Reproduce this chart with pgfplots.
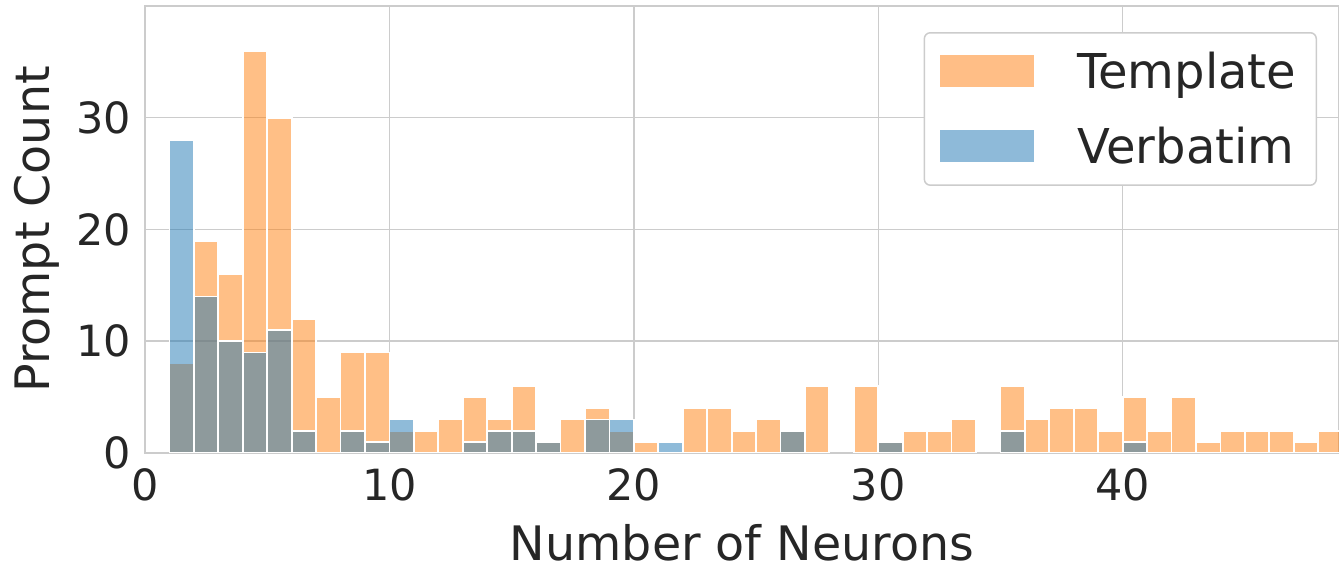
\documentclass[border=0pt]{standalone}
\usepackage{fontspec}
\setmainfont{DejaVu Sans}
\usepackage{pgfplots}
\pgfplotsset{compat=1.18}
\definecolor{tabblue}{RGB}{31,119,180}
\definecolor{taborange}{RGB}{255,127,14}
\definecolor{gridgray}{RGB}{204,204,204}
\definecolor{txt}{RGB}{38,38,38}
\begin{document}
\begin{tikzpicture}
\begin{axis}[
  scale only axis,
  width=597pt, height=223.5pt,
  xmin=0, xmax=48.85, ymin=0, ymax=40,
  xtick={0,10,20,30,40}, ytick={0,10,20,30},
  grid=major,
  major grid style={gridgray, line width=0.75pt},
  axis line style={gridgray, line width=0.75pt},
  tick style={draw=none},
  ticklabel style={font=\fontsize{21.5}{25}\selectfont, text=txt},
  yticklabel style={xshift=-3.5pt},
  /pgf/number format/assume math mode=true,
  xlabel={Number of Neurons}, ylabel={Prompt Count},
  label style={font=\fontsize{23.75}{28}\selectfont, text=txt},
  xlabel style={at={(axis description cs:0.5,-0.2394)}, anchor=base},
  ylabel style={at={(axis description cs:-0.0796,0.5)}, anchor=base},
  ybar, bar width=1, bar shift=0pt,
  legend style={at={(0.9816,0.9418)}, anchor=north east,
    draw=gridgray, line width=0.75pt, rounded corners=3pt,
    font=\fontsize{24}{28}\selectfont, text=txt,
    inner xsep=8pt, inner ysep=7.5pt, row sep=13.75pt,
    nodes={inner sep=2pt}},
  legend cell align=left,
  legend image code/.code={\fill[#1, draw=none, sharp corners] (0pt,-8pt) rectangle (47pt,8pt); \path (66pt,0pt);},
]
\addplot[fill=taborange, fill opacity=0.5, draw=white, draw opacity=1, line width=0.9pt] coordinates {
(1.5,8) (2.5,19) (3.5,16) (4.5,36) (5.5,30) (6.5,12) (7.5,5) (8.5,9) (9.5,9) (10.5,2)
(11.5,2) (12.5,3) (13.5,5) (14.5,3) (15.5,6) (16.5,1) (17.5,3) (18.5,4) (19.5,2) (20.5,1)
(22.5,4) (23.5,4) (24.5,2) (25.5,3) (26.5,2) (27.5,6) (29.5,6) (30.5,1)
(31.5,2) (32.5,2) (33.5,3) (35.5,6) (36.5,3) (37.5,4) (38.5,4) (39.5,2) (40.5,5)
(41.5,2) (42.5,5) (43.5,1) (44.5,2) (45.5,2) (46.5,2) (47.5,1) (48.5,2)
};
\addlegendentry{Template}
\addplot[fill=tabblue, fill opacity=0.5, draw=white, draw opacity=1, line width=0.9pt] coordinates {
(1.5,28) (2.5,14) (3.5,10) (4.5,9) (5.5,11) (6.5,2) (8.5,2) (9.5,1) (10.5,3)
(13.5,1) (14.5,2) (15.5,2) (16.5,1) (18.5,3) (19.5,3) (21.5,1) (26.5,2) (30.5,1)
(35.5,2) (40.5,1)
};
\addlegendentry{Verbatim}
\coordinate (sw) at (rel axis cs:0,0);
\coordinate (ne) at (rel axis cs:1,1);
\end{axis}
\pgfresetboundingbox
\path[use as bounding box] ([xshift=-72.5pt,yshift=-56pt]sw) rectangle ([yshift=3pt]ne);
\end{tikzpicture}
\end{document}
